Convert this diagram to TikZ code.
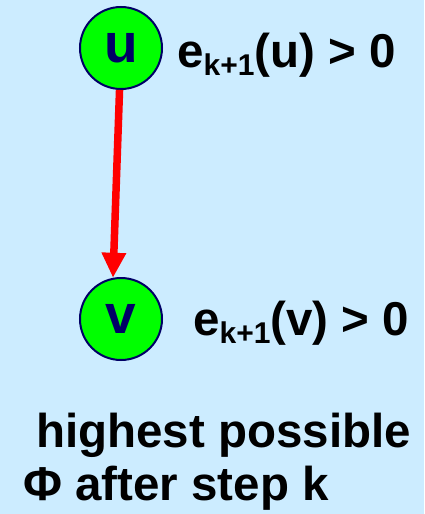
\documentclass[tikz,border=0pt]{standalone}
\usepackage{fontspec}
\setmainfont{Liberation Sans}
\usetikzlibrary{arrows.meta}
\definecolor{bgblue}{RGB}{204,236,255}
\definecolor{navy}{RGB}{0,0,102}
\definecolor{nodegreen}{RGB}{0,255,0}
\tikzset{
  vertex/.style={circle, draw=navy, line width=2pt, fill=nodegreen, minimum size=82pt, inner sep=0pt,
    text=navy, font=\fontsize{55}{60}\selectfont\bfseries},
  lbl/.style={anchor=base west, inner sep=0pt, font=\fontsize{47.5}{52}\selectfont\bfseries},
  edgearrow/.style={draw=red, line width=7.5pt, -{Triangle[width=23pt,length=25pt]}, fill=red},
}
\newcommand{\subkk}{\raisebox{-8pt}{\fontsize{30}{32}\selectfont k+1}}
\begin{document}
\begin{tikzpicture}[x=1pt,y=-1pt]
  \fill[bgblue] (0,0) rectangle (424,514);
  \useasboundingbox (0,0) rectangle (424,514);
  \node[vertex] (u) at (121,48) {u};
  \node[vertex] (v) at (121,319) {v};
  \draw[edgearrow] (u.-92) -- (v.101);
  \node[lbl] (lu) at (177,67) {e\subkk(u) > 0};
  \node[lbl] (lv) at (193,335) {e\subkk(v) > 0};
  \node[lbl] (l1) at (36,447) {highest possible};
  \node[lbl] (l2) at (23,500) {Φ after step k};
\end{tikzpicture}
\end{document}
